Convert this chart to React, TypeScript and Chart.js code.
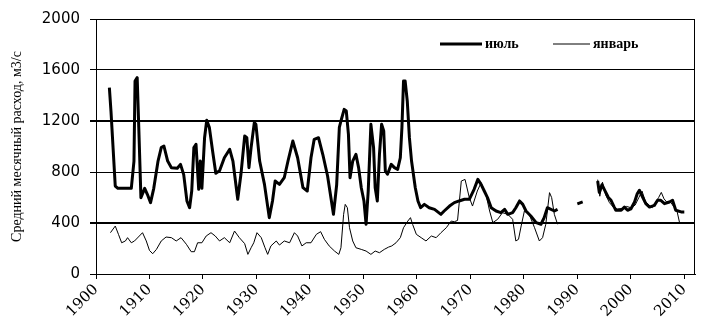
import React, { useEffect, useRef } from "react";
import { Chart, registerables } from "chart.js";

Chart.register(...registerables);

// ---- data ----
const seriesLabels = ["июль", "январь"];
const yAxisTitle = "Средний месячный расход, м3/с";
const yTickValues = [0, 400, 800, 1200, 1600, 2000];
const xTickYears = [1900, 1910, 1920, 1930, 1940, 1950, 1960, 1970, 1980, 1990, 2000, 2010];

const julyYears = [
  1902.5, 1902.8, 1903.6, 1904.1, 1906.6, 1907.1, 1907.3, 1907.7, 1908.0, 1908.4,
  1909.1, 1909.6, 1910.2, 1910.8, 1911.6, 1912.2, 1912.7, 1913.4, 1914.1, 1915.2,
  1915.8, 1916.4, 1917.0, 1917.5, 1917.9, 1918.3, 1918.7, 1919.2, 1919.5, 1919.8,
  1920.3, 1920.7, 1921.2, 1921.8, 1922.4, 1923.1, 1924.0, 1925.0, 1925.6, 1926.5,
  1927.1, 1927.8, 1928.2, 1928.6, 1929.0, 1929.6, 1929.9, 1930.6, 1931.5, 1932.4,
  1933.0, 1933.5, 1934.3, 1935.2, 1935.9, 1936.8, 1937.7, 1938.7, 1939.5, 1940.2,
  1940.8, 1941.6, 1942.4, 1943.3, 1944.4, 1945.0, 1945.5, 1945.8, 1946.4, 1946.8,
  1947.2, 1947.5, 1948.0, 1948.6, 1949.1, 1949.6, 1950.1, 1950.5, 1950.9, 1951.4,
  1951.9, 1952.2, 1952.6, 1953.0, 1953.4, 1953.8, 1954.1, 1954.5, 1955.2, 1955.8,
  1956.4, 1956.9, 1957.2, 1957.5, 1957.8, 1958.2, 1958.6, 1959.0, 1959.7, 1960.2,
  1960.7, 1961.4, 1962.3, 1963.3, 1964.5, 1965.1, 1966.1, 1967.0, 1967.9, 1968.9,
  1969.8, 1970.7, 1971.4, 1972.0, 1972.6, 1973.2, 1973.9, 1974.8, 1975.7, 1976.4,
  1977.0, 1977.9, 1978.5, 1979.2, 1979.8, 1980.4, 1981.3, 1982.3, 1983.2, 1983.8,
  1984.4, 1985.7, 1986.3,
  1988,
  1990.0, 1991.0,
  1992,
  1993.8, 1994.1, 1994.6, 1995.2, 1995.8, 1996.3, 1996.9, 1997.2, 1998.2, 1998.8,
  1999.4, 2000.0, 2000.7, 2001.2, 2001.6, 2002.2, 2002.8, 2003.5, 2004.4, 2005.0,
  2005.6, 2006.3, 2007.2, 2007.8, 2008.4, 2009.4, 2010.0,
];
const julyValues = [
  1461, 1278, 690, 672, 672, 886, 1514, 1540, 1148, 599,
  672, 625, 560, 672, 886, 991, 1004, 886, 834, 829,
  860, 779, 573, 520, 651, 991, 1017, 664, 886, 672,
  1069, 1205, 1148, 965, 790, 810, 912, 978, 886, 586,
  782, 1082, 1069, 834, 991, 1187, 1174, 886, 703, 442,
  573, 729, 703, 755, 886, 1043, 912, 677, 651, 912,
  1056, 1069, 939, 769, 468, 700, 1150, 1200, 1291, 1278,
  1095, 755, 886, 939, 834, 677, 573, 390, 651, 1174,
  991, 677, 573, 939, 1174, 1122, 808, 782, 860, 834,
  821, 912, 1148, 1514, 1514, 1357, 1069, 886, 677, 573,
  520, 546, 520, 507, 468, 494, 533, 560, 573, 586,
  586, 664, 742, 703, 651, 599, 520, 494, 481, 507,
  468, 481, 520, 573, 546, 494, 455, 403, 390, 442,
  520, 494, 507,
  null,
  550, 565,
  null,
  730, 640, 700, 650, 600, 578, 525, 500, 500, 525,
  500, 510, 565, 630, 657, 604, 552, 525, 538, 578,
  578, 552, 565, 578, 500, 487, 487,
];

const janYears = [
  1902.7, 1903.6, 1904.2, 1904.8, 1905.5, 1905.9, 1906.6, 1907.2, 1908.1, 1908.7,
  1909.4, 1910.0, 1910.6, 1911.3, 1912.2, 1913.1, 1914.1, 1915.0, 1915.9, 1916.9,
  1917.8, 1918.4, 1919.0, 1919.8, 1920.6, 1921.5, 1922.3, 1923.1, 1924.0, 1925.0,
  1925.9, 1926.8, 1927.8, 1928.4, 1929.0, 1929.5, 1930.1, 1930.9, 1931.6, 1932.1,
  1932.7, 1933.7, 1934.3, 1935.2, 1936.2, 1937.1, 1937.7, 1938.5, 1939.3, 1940.2,
  1941.2, 1942.0, 1942.7, 1943.6, 1944.6, 1945.4, 1945.8, 1946.3, 1946.6, 1947.0,
  1947.4, 1948.0, 1948.6, 1949.6, 1950.5, 1951.4, 1952.2, 1953.0, 1953.9, 1954.7,
  1955.3, 1956.1, 1956.9, 1957.5, 1958.3, 1958.8, 1959.2, 1959.9, 1960.8, 1961.7,
  1962.7, 1963.6, 1964.5, 1965.5, 1966.4, 1967.0, 1967.6, 1968.3, 1969.0, 1969.8,
  1970.4, 1971.3, 1972.0, 1972.9, 1973.6, 1974.2, 1975.1, 1976.0, 1977.0, 1977.9,
  1978.5, 1979.0, 1979.5, 1980.1, 1981.0, 1982.0, 1982.9, 1983.5, 1984.1, 1984.8,
  1985.2, 1985.7, 1986.3,
  1988,
  1993.8, 1994.2, 1994.7, 1995.3, 1996.0, 1996.8, 1997.5, 1998.5, 1999.2, 2000.0,
  2000.8, 2001.5, 2002.1, 2002.7, 2003.4, 2004.0, 2004.6, 2005.2, 2005.7, 2006.2,
  2006.8, 2007.5, 2008.0, 2008.6, 2009.1,
];
const janValues = [
  324, 376, 311, 245, 259, 285, 245, 259, 298, 324,
  259, 185, 159, 193, 259, 290, 285, 259, 285, 233,
  175, 175, 245, 245, 298, 324, 298, 259, 285, 245,
  337, 285, 238, 154, 206, 245, 324, 285, 206, 154,
  220, 259, 227, 259, 245, 324, 298, 220, 245, 245,
  311, 332, 272, 220, 180, 154, 206, 468, 546, 520,
  363, 259, 206, 193, 180, 154, 180, 167, 193, 211,
  220, 245, 285, 363, 415, 442, 389, 311, 285, 259,
  298, 285, 324, 363, 415, 410, 420, 729, 742, 599,
  533, 651, 716, 625, 494, 403, 429, 481, 468, 429,
  259, 272, 377, 494, 468, 363, 259, 285, 390, 638,
  599, 468, 390,
  null,
  740, 610, 720, 620, 560, 520, 510, 515, 530, 520,
  540, 600, 650, 570, 540, 520, 560, 600, 640, 590,
  560, 560, 530, 500, 405,
];

const toPoints = (xs: number[], ys: (number | null)[]) =>
  xs.map((x, i) => ({ x, y: ys[i] }));

const frameAndLegend = {
  id: "frameAndLegend",
  afterDraw(chart: any) {
    const { ctx, chartArea } = chart;
    ctx.save();
    // right frame line
    ctx.strokeStyle = "#000";
    ctx.lineWidth = 1;
    ctx.beginPath();
    ctx.moveTo(chartArea.right - 0.5, chartArea.top);
    ctx.lineTo(chartArea.right - 0.5, chartArea.bottom);
    ctx.stroke();
    // legend inside the plot
    const y = chartArea.top + 25;
    const items = [
      { ds: 0, x0: chartArea.right - 255, len: 42 },
      { ds: 1, x0: chartArea.right - 142, len: 37 },
    ];
    ctx.font = "bold 14px 'Liberation Serif'";
    ctx.textBaseline = "middle";
    ctx.textAlign = "left";
    ctx.fillStyle = "#000";
    items.forEach((it) => {
      const ds = chart.data.datasets[it.ds];
      ctx.lineWidth = ds.borderWidth;
      ctx.lineCap = "butt";
      ctx.beginPath();
      ctx.moveTo(it.x0, y);
      ctx.lineTo(it.x0 + it.len, y);
      ctx.stroke();
      ctx.fillText(ds.label, it.x0 + it.len + 3, y);
    });
    ctx.restore();
  },
};

export default function App() {
  const ref = useRef<HTMLCanvasElement | null>(null);
  useEffect(() => {
    if (!ref.current) return;
    const chart = new Chart(ref.current, {
      type: "line",
      data: {
        datasets: [
          {
            label: seriesLabels[0],
            data: toPoints(julyYears, julyValues),
            borderColor: "#000",
            borderWidth: 3,
            pointRadius: 0,
            tension: 0,
            spanGaps: false,
            borderJoinStyle: "round",
          },
          {
            label: seriesLabels[1],
            data: toPoints(janYears, janValues),
            borderColor: "#000",
            borderWidth: 1,
            pointRadius: 0,
            tension: 0,
            spanGaps: false,
          },
        ],
      },
      options: {
        responsive: false,
        animation: false,
        events: [],
        layout: { padding: { left: 0, top: 18, right: 23, bottom: 0 } },
        plugins: { legend: { display: false }, tooltip: { enabled: false } },
        scales: {
          x: {
            type: "linear",
            min: 1900,
            max: 2012,
            afterBuildTicks: (s: any) => {
              s.ticks = xTickYears.map((v) => ({ value: v }));
            },
            afterFit: (s: any) => {
              s.height = 55;
            },
            ticks: {
              autoSkip: false,
              minRotation: 45,
              maxRotation: 45,
              padding: 2,
              color: "#000",
              font: { family: "'DejaVu Serif'", size: 15 },
              callback: (v: any) => String(v),
            },
            grid: {
              drawOnChartArea: false,
              drawTicks: true,
              tickLength: 5,
              color: "#000",
            },
            border: { display: true, color: "#000", width: 1 },
          },
          y: {
            min: 0,
            max: 2000,
            afterBuildTicks: (s: any) => {
              s.ticks = yTickValues.map((v) => ({ value: v }));
            },
            afterFit: (s: any) => {
              s.width = 96;
            },
            ticks: {
              padding: 10,
              color: "#000",
              font: { family: "'DejaVu Sans'", size: 15 },
              callback: (v: any) => String(v),
            },
            grid: {
              color: "#000",
              lineWidth: (c: any) => (c.tick && (c.tick.value === 400 || c.tick.value === 1200) ? 2 : 1),
              tickLength: 6,
            },
            border: { display: true, color: "#000", width: 1 },
            title: {
              display: true,
              text: yAxisTitle,
              color: "#000",
              font: { family: "'Liberation Serif'", size: 14 },
              padding: { top: 9, bottom: 0 },
            },
          },
        },
      },
      plugins: [frameAndLegend],
    });
    return () => chart.destroy();
  }, []);
  return (
    <div style={{ position: "absolute", left: 0, top: 0, width: 718, height: 329, background: "#fff" }}>
      <canvas ref={ref} width={718} height={329} />
    </div>
  );
}
